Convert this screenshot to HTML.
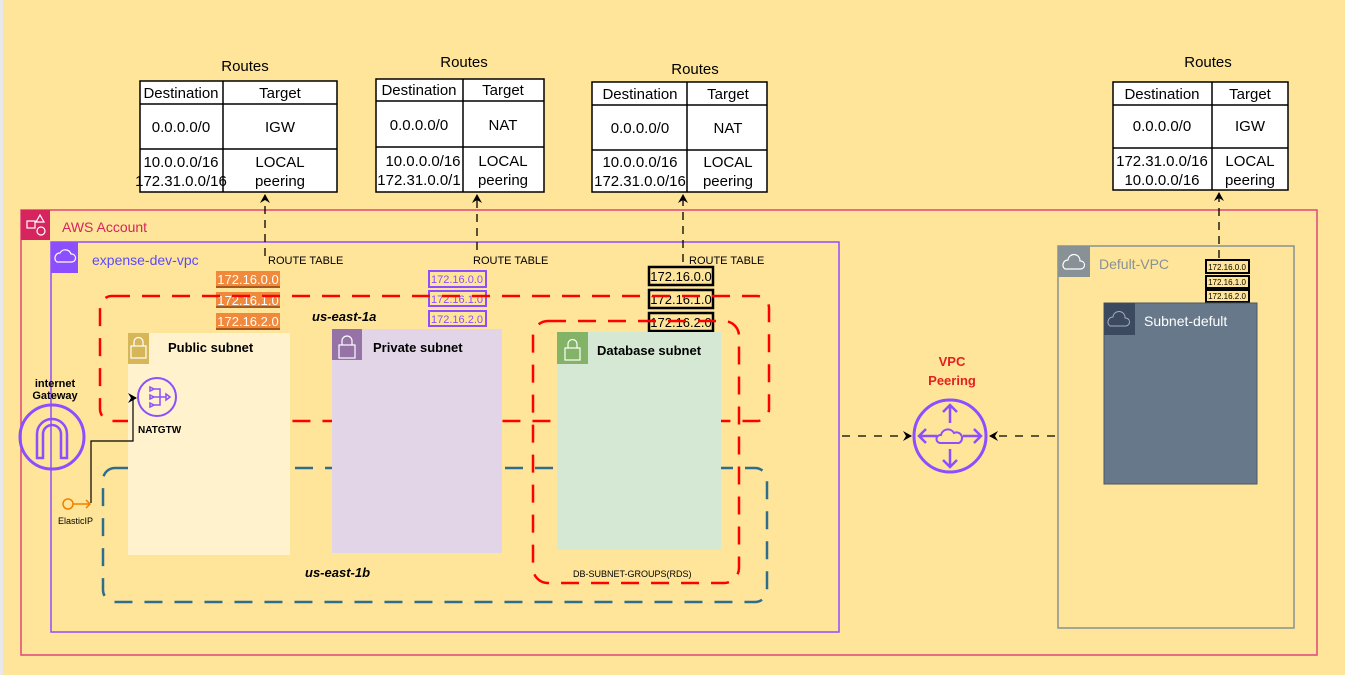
<!DOCTYPE html>
<html><head><meta charset="utf-8"><style>
body{margin:0;width:1345px;height:675px;overflow:hidden;background:#FFE599;}
svg{display:block}
text{font-family:"Liberation Sans",Arial,sans-serif;}
</style></head><body>
<svg width="1345" height="675" viewBox="0 0 1345 675" xmlns="http://www.w3.org/2000/svg">
<defs>
<marker id="ar" markerWidth="10" markerHeight="10" refX="8" refY="5" orient="auto" markerUnits="userSpaceOnUse"><path d="M0,0 L9,5 L0,10 L3,5 Z" fill="#000"/></marker>
</defs>
<rect x="0" y="0" width="3" height="675" fill="#e8e8e8"/>
<!-- Route tables -->
<g font-size="15" text-anchor="middle" fill="#000">
<text x="245" y="71">Routes</text>
<rect x="140" y="81" width="197" height="111" fill="#fff" stroke="#000" stroke-width="1.5"/>
<line x1="140" y1="104" x2="337" y2="104" stroke="#000" stroke-width="1.5"/><line x1="140" y1="149" x2="337" y2="149" stroke="#000" stroke-width="1.5"/><line x1="223" y1="81" x2="223" y2="192" stroke="#000" stroke-width="1.5"/>
<text x="181" y="98">Destination</text><text x="280" y="98">Target</text>
<text x="181" y="132">0.0.0.0/0</text><text x="280" y="132">IGW</text>
<text x="181" y="167">10.0.0.0/16</text><text x="181" y="186">172.31.0.0/16</text>
<text x="280" y="167">LOCAL</text><text x="280" y="186">peering</text>

<text x="464" y="67">Routes</text>
<rect x="376" y="79" width="168" height="113" fill="#fff" stroke="#000" stroke-width="1.5"/>
<line x1="376" y1="101" x2="544" y2="101" stroke="#000" stroke-width="1.5"/><line x1="376" y1="147" x2="544" y2="147" stroke="#000" stroke-width="1.5"/><line x1="463" y1="79" x2="463" y2="192" stroke="#000" stroke-width="1.5"/>
<text x="419" y="95">Destination</text><text x="503" y="95">Target</text>
<text x="419" y="130">0.0.0.0/0</text><text x="503" y="130">NAT</text>
<text x="423" y="166">10.0.0.0/16</text><text x="419" y="185">172.31.0.0/1</text>
<text x="503" y="166">LOCAL</text><text x="503" y="185">peering</text>

<text x="695" y="74">Routes</text>
<rect x="592" y="82" width="175" height="110" fill="#fff" stroke="#000" stroke-width="1.5"/>
<line x1="592" y1="105" x2="767" y2="105" stroke="#000" stroke-width="1.5"/><line x1="592" y1="150" x2="767" y2="150" stroke="#000" stroke-width="1.5"/><line x1="687" y1="82" x2="687" y2="192" stroke="#000" stroke-width="1.5"/>
<text x="640" y="99">Destination</text><text x="728" y="99">Target</text>
<text x="640" y="133">0.0.0.0/0</text><text x="728" y="133">NAT</text>
<text x="640" y="167">10.0.0.0/16</text><text x="640" y="186">172.31.0.0/16</text>
<text x="728" y="167">LOCAL</text><text x="728" y="186">peering</text>

<text x="1208" y="67">Routes</text>
<rect x="1113" y="82" width="175" height="108" fill="#fff" stroke="#000" stroke-width="1.5"/>
<line x1="1113" y1="105" x2="1288" y2="105" stroke="#000" stroke-width="1.5"/><line x1="1113" y1="148" x2="1288" y2="148" stroke="#000" stroke-width="1.5"/><line x1="1212" y1="82" x2="1212" y2="190" stroke="#000" stroke-width="1.5"/>
<text x="1162" y="99">Destination</text><text x="1250" y="99">Target</text>
<text x="1162" y="131">0.0.0.0/0</text><text x="1250" y="131">IGW</text>
<text x="1162" y="166">172.31.0.0/16</text><text x="1162" y="185">10.0.0.0/16</text>
<text x="1250" y="166">LOCAL</text><text x="1250" y="185">peering</text>
</g>
<!-- AWS account -->
<rect x="21" y="210" width="1296" height="445" fill="none" stroke="#E0457B" stroke-width="1.5"/>
<rect x="21" y="210" width="29" height="30" fill="#D6245F"/>
<g stroke="#fff" fill="none" stroke-width="1.2"><rect x="27" y="221" width="8" height="7"/><circle cx="41" cy="231" r="4"/><path d="M40,215 l4,7 h-8 z"/></g>
<text x="62" y="232" font-size="14" fill="#D6245F">AWS Account</text>
<!-- VPC -->
<rect x="51" y="242" width="788" height="390" fill="none" stroke="#8C4FFF" stroke-width="1.5"/>
<rect x="51" y="242" width="27" height="31" fill="#8C4FFF"/>
<path d="M57,262 a5,5 0 0 1 3,-9 a6,6 0 0 1 11,1 a4,4 0 0 1 1,8 z" fill="none" stroke="#fff" stroke-width="1.2"/>
<text x="92" y="265" font-size="14" fill="#5A4BFF">expense-dev-vpc</text>
<!-- Default VPC -->
<rect x="1058" y="246" width="236" height="382" fill="none" stroke="#879196" stroke-width="1.5"/>
<rect x="1058" y="246" width="32" height="31" fill="#879196"/>
<path d="M1065,269 a5,5 0 0 1 3,-9 a6,6 0 0 1 12,1 a4,4 0 0 1 1,8 z" fill="none" stroke="#fff" stroke-width="1.2"/>
<text x="1099" y="269" font-size="14" fill="#879196">Defult-VPC</text>

<!-- route boxes -->
<g font-size="13" text-anchor="middle">
<rect x="216" y="271" width="64" height="16" fill="#F0893B"/><rect x="216" y="286" width="64" height="2" fill="#A8581E"/><text x="248" y="284" fill="#fff">172.16.0.0</text>
<rect x="216" y="292" width="64" height="15" fill="#F0893B"/><rect x="216" y="306" width="64" height="2" fill="#A8581E"/><text x="248" y="305" fill="#fff">172.16.1.0</text>
<rect x="216" y="313" width="64" height="16" fill="#F0893B"/><rect x="216" y="328" width="64" height="2" fill="#A8581E"/><text x="248" y="326" fill="#fff">172.16.2.0</text>
<g font-size="11" fill="#8C4FFF"><rect x="429" y="271" width="57" height="16" fill="none" stroke="#8C4FFF" stroke-width="2"/><text x="457" y="283">172.16.0.0</text>
<rect x="429" y="291" width="57" height="15" fill="none" stroke="#8C4FFF" stroke-width="2"/><text x="457" y="303">172.16.1.0</text>
<rect x="429" y="311" width="57" height="15" fill="none" stroke="#8C4FFF" stroke-width="2"/><text x="457" y="323">172.16.2.0</text></g>
<rect x="649" y="267" width="64" height="18" fill="none" stroke="#000" stroke-width="2.5"/><text x="681" y="281" fill="#000">172.16.0.0</text>
<rect x="649" y="290" width="64" height="18" fill="none" stroke="#000" stroke-width="2.5"/><text x="681" y="304" fill="#000">172.16.1.0</text>
<rect x="649" y="313" width="64" height="18" fill="none" stroke="#000" stroke-width="2.5"/><text x="681" y="327" fill="#000">172.16.2.0</text>
<g font-size="8" fill="#000"><rect x="1206" y="260" width="43" height="13" fill="none" stroke="#000" stroke-width="2"/><text x="1227" y="270">172.16.0.0</text>
<rect x="1206" y="276" width="43" height="12" fill="none" stroke="#000" stroke-width="2"/><text x="1227" y="285">172.16.1.0</text>
<rect x="1206" y="290" width="43" height="12" fill="none" stroke="#000" stroke-width="2"/><text x="1227" y="299">172.16.2.0</text></g>
</g>
<g font-size="11" fill="#000"><text x="268" y="264">ROUTE TABLE</text><text x="473" y="264">ROUTE TABLE</text><text x="689" y="264">ROUTE TABLE</text></g>
<!-- dashed up arrows -->
<g stroke="#000" stroke-width="1.3" stroke-dasharray="8,6" marker-end="url(#ar)" fill="none">
<line x1="265" y1="256" x2="265" y2="195"/><line x1="477" y1="250" x2="477" y2="195"/><line x1="683" y1="262" x2="683" y2="195"/><line x1="1219" y1="258" x2="1219" y2="193"/>
</g>
<!-- dashed AZ boxes -->
<rect x="100" y="296" width="669" height="125" rx="12" fill="none" stroke="#FF0000" stroke-width="2.5" stroke-dasharray="18,12"/>
<rect x="103" y="468" width="664" height="134" rx="12" fill="none" stroke="#2E6D8E" stroke-width="2.5" stroke-dasharray="18,12"/>
<rect x="533" y="321" width="206" height="262" rx="15" fill="none" stroke="#FF0000" stroke-width="2.5" stroke-dasharray="18,12"/>
<!-- subnets -->
<rect x="128" y="333" width="162" height="222" fill="#FFF2CC"/>
<rect x="128" y="333" width="21" height="31" fill="#D6B656"/>
<rect x="332" y="329" width="170" height="224" fill="#E1D5E7"/>
<rect x="332" y="329" width="30" height="31" fill="#9673A6"/>
<rect x="557" y="332" width="164" height="218" fill="#D5E8D4"/>
<rect x="557" y="332" width="31" height="32" fill="#82B366"/>
<g stroke="#fff" fill="none" stroke-width="1.2">
<rect x="131" y="346" width="15" height="12"/><path d="M134,346 v-4 a4.5,4.5 0 0 1 9,0 v4"/>
<rect x="339" y="345" width="16" height="13"/><path d="M342,345 v-4 a5,5 0 0 1 10,0 v4"/>
<rect x="565" y="348" width="15" height="12"/><path d="M568,348 v-4 a4.5,4.5 0 0 1 9,0 v4"/>
</g>
<g font-size="13" font-weight="bold" fill="#000"><text x="168" y="352">Public subnet</text><text x="373" y="352">Private subnet</text><text x="597" y="355">Database subnet</text></g>
<text x="312" y="321" font-size="13" font-weight="bold" font-style="italic">us-east-1a</text>
<text x="305" y="577" font-size="13" font-weight="bold" font-style="italic">us-east-1b</text>
<text x="573" y="577" font-size="9">DB-SUBNET-GROUPS(RDS)</text>
<!-- default subnet -->
<rect x="1104" y="303" width="153" height="181" fill="#66788A" stroke="#4a5868"/>
<rect x="1104" y="303" width="31" height="32" fill="#3B4A5E"/>
<path d="M1110,326 a5,5 0 0 1 3,-9 a6,6 0 0 1 12,1 a4,4 0 0 1 1,8 z" fill="none" stroke="#aab" stroke-width="1"/>
<text x="1144" y="326" font-size="14" fill="#fff">Subnet-defult</text>
<!-- IGW -->
<text x="55" y="387" font-size="11" font-weight="bold" text-anchor="middle">internet</text>
<text x="55" y="399" font-size="11" font-weight="bold" text-anchor="middle">Gateway</text>
<circle cx="52" cy="437" r="32" fill="none" stroke="#8C4FFF" stroke-width="3"/>
<path d="M37,458 v-24 a15,15 0 0 1 30,0 v24 h-6 v-24 a9,9 0 0 0 -18,0 v24 z" fill="none" stroke="#8C4FFF" stroke-width="2.5"/>
<!-- NAT -->
<circle cx="157" cy="397" r="19" fill="none" stroke="#8C4FFF" stroke-width="2"/>
<g stroke="#8C4FFF" stroke-width="1.5" fill="none"><path d="M150,387 l4,2 l-4,2 z M150,395 l4,2 l-4,2 z M150,403 l4,2 l-4,2 z M154,389 h6 v16 h-6 M154,397 h12 M166,394 l4,3 l-4,3 z"/></g>
<text x="138" y="433" font-size="10" font-weight="bold">NATGTW</text>
<!-- Elastic IP -->
<circle cx="68" cy="504" r="5" fill="none" stroke="#F08000" stroke-width="1.5"/>
<path d="M73,504 h17 M86,500 l4,4 l-4,4" stroke="#F08000" stroke-width="1.5" fill="none"/>
<text x="58" y="524" font-size="9">ElasticIP</text>
<path d="M91,503 V441 H133 V398 H136" stroke="#000" stroke-width="1.2" fill="none" marker-end="url(#ar)"/>
<!-- peering -->
<text x="952" y="366" font-size="13" font-weight="bold" fill="#E32020" text-anchor="middle">VPC</text>
<text x="952" y="385" font-size="13" font-weight="bold" fill="#E32020" text-anchor="middle">Peering</text>
<circle cx="950" cy="436" r="36" fill="none" stroke="#8C4FFF" stroke-width="3"/>
<g stroke="#8C4FFF" stroke-width="2.5" fill="none">
<path d="M950,423 v-18 M943,412 l7,-7 l7,7 M950,449 v18 M943,460 l7,7 l7,-7 M937,436 h-18 M926,429 l-7,7 l7,7 M963,436 h18 M974,429 l7,7 l-7,7"/>
<path d="M940,443 a4,4 0 0 1 1,-8 a7,7 0 0 1 13,-2 a5,5 0 0 1 5,10 z" stroke-width="2"/>
</g>
<g stroke="#000" stroke-width="1.3" stroke-dasharray="8,8" fill="none" marker-end="url(#ar)">
<line x1="842" y1="436" x2="911" y2="436"/><line x1="1055" y1="436" x2="990" y2="436"/>
</g>
</svg>
</body></html>
